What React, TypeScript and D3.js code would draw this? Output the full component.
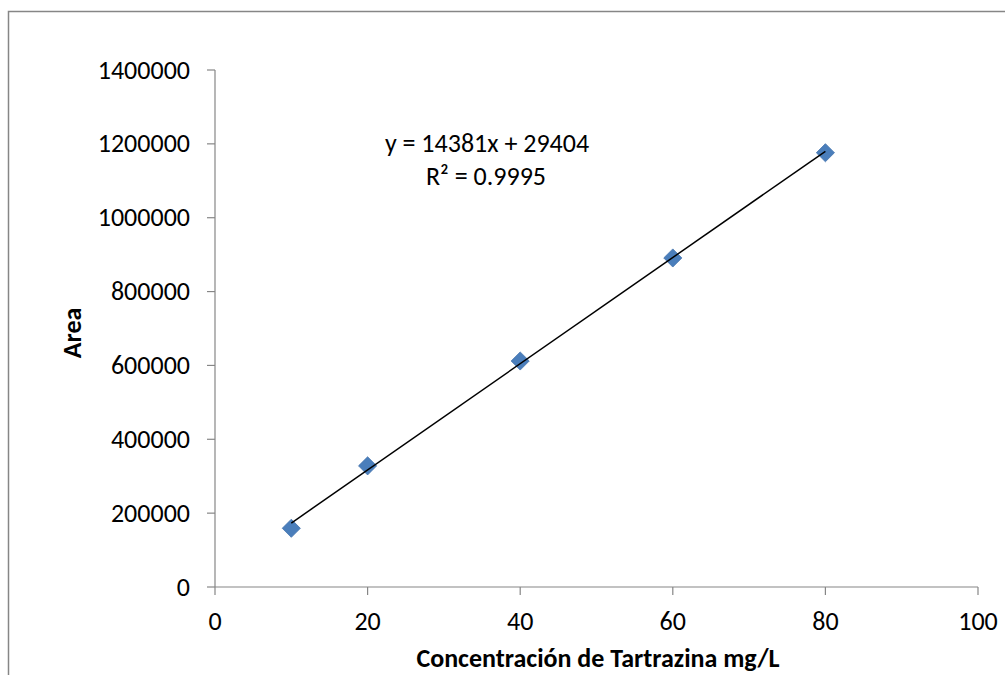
import * as d3 from "d3";

// Tartrazina calibration data
const concentrations = [10, 20, 40, 60, 80];
const areas = [159000, 328000, 612000, 891000, 1176000];

const xTicks = [0, 20, 40, 60, 80, 100];
const yTicks = [0, 200000, 400000, 600000, 800000, 1000000, 1200000, 1400000];

const slope = 14381;
const intercept = 29404;
const equationLines = ["y = 14381x + 29404", "R² = 0.9995"];

const xTitle = "Concentración de Tartrazina mg/L";
const yTitle = "Area";

const W = 1005;
const H = 675;
const font = "Calibri, Carlito, 'Liberation Sans', Arial, sans-serif";
const axisColor = "#868686";
const markerColor = "#4A7EBB";

export default function App() {
  const x = d3.scaleLinear().domain([0, 100]).range([215, 978]);
  const y = d3.scaleLinear().domain([0, 1400000]).range([587, 70]);

  const trend = d3
    .line<number>()
    .x((d) => x(d))
    .y((d) => y(slope * d + intercept));

  const diamond = d3.symbol(d3.symbolDiamond2, 210)();

  return (
    <svg
      width={W}
      height={H}
      style={{ position: "absolute", left: 0, top: 0, background: "#fff" }}
      fontFamily={font}
    >
      <rect x={8.5} y={11.5} width={W} height={H} fill="#fff" stroke={axisColor} strokeWidth={1.5} />

      {/* axes */}
      <line x1={x(0)} x2={x(0)} y1={y(1400000)} y2={y(0)} stroke={axisColor} strokeWidth={1.2} />
      <line x1={x(0)} x2={x(100)} y1={y(0)} y2={y(0)} stroke={axisColor} strokeWidth={1.2} />
      {yTicks.map((t) => (
        <g key={"y" + t}>
          <line x1={x(0) - 8} x2={x(0)} y1={y(t)} y2={y(t)} stroke={axisColor} strokeWidth={1.2} />
          <text x={190} y={y(t)} dy="0.33em" textAnchor="end" fontSize={26} fill="#000">
            {t}
          </text>
        </g>
      ))}
      {xTicks.map((t) => (
        <g key={"x" + t}>
          <line x1={x(t)} x2={x(t)} y1={y(0)} y2={y(0) + 8} stroke={axisColor} strokeWidth={1.2} />
          <text x={x(t)} y={630} textAnchor="middle" fontSize={26} fill="#000">
            {t}
          </text>
        </g>
      ))}

      {/* markers */}
      {concentrations.map((c, i) => (
        <path
          key={c}
          d={diamond}
          transform={`translate(${x(c)},${y(areas[i])})`}
          fill={markerColor}
          stroke="#4474ad"
          strokeWidth={0.8}
        />
      ))}

      {/* trendline */}
      <path
        d={trend([concentrations[0], concentrations[concentrations.length - 1]]) || ""}
        fill="none"
        stroke="#000"
        strokeWidth={1.5}
      />

      {/* equation */}
      <text x={487} y={152} textAnchor="middle" fontSize={26} fill="#000">
        {equationLines[0]}
      </text>
      <text x={486} y={185} textAnchor="middle" fontSize={26} fill="#000">
        {equationLines[1]}
      </text>

      {/* titles */}
      <text x={598} y={667} textAnchor="middle" fontSize={26} fontWeight="bold" fill="#000">
        {xTitle}
      </text>
      <text
        transform="translate(81,333) rotate(-90)"
        textAnchor="middle"
        fontSize={26}
        fontWeight="bold"
        fill="#000"
      >
        {yTitle}
      </text>
    </svg>
  );
}
